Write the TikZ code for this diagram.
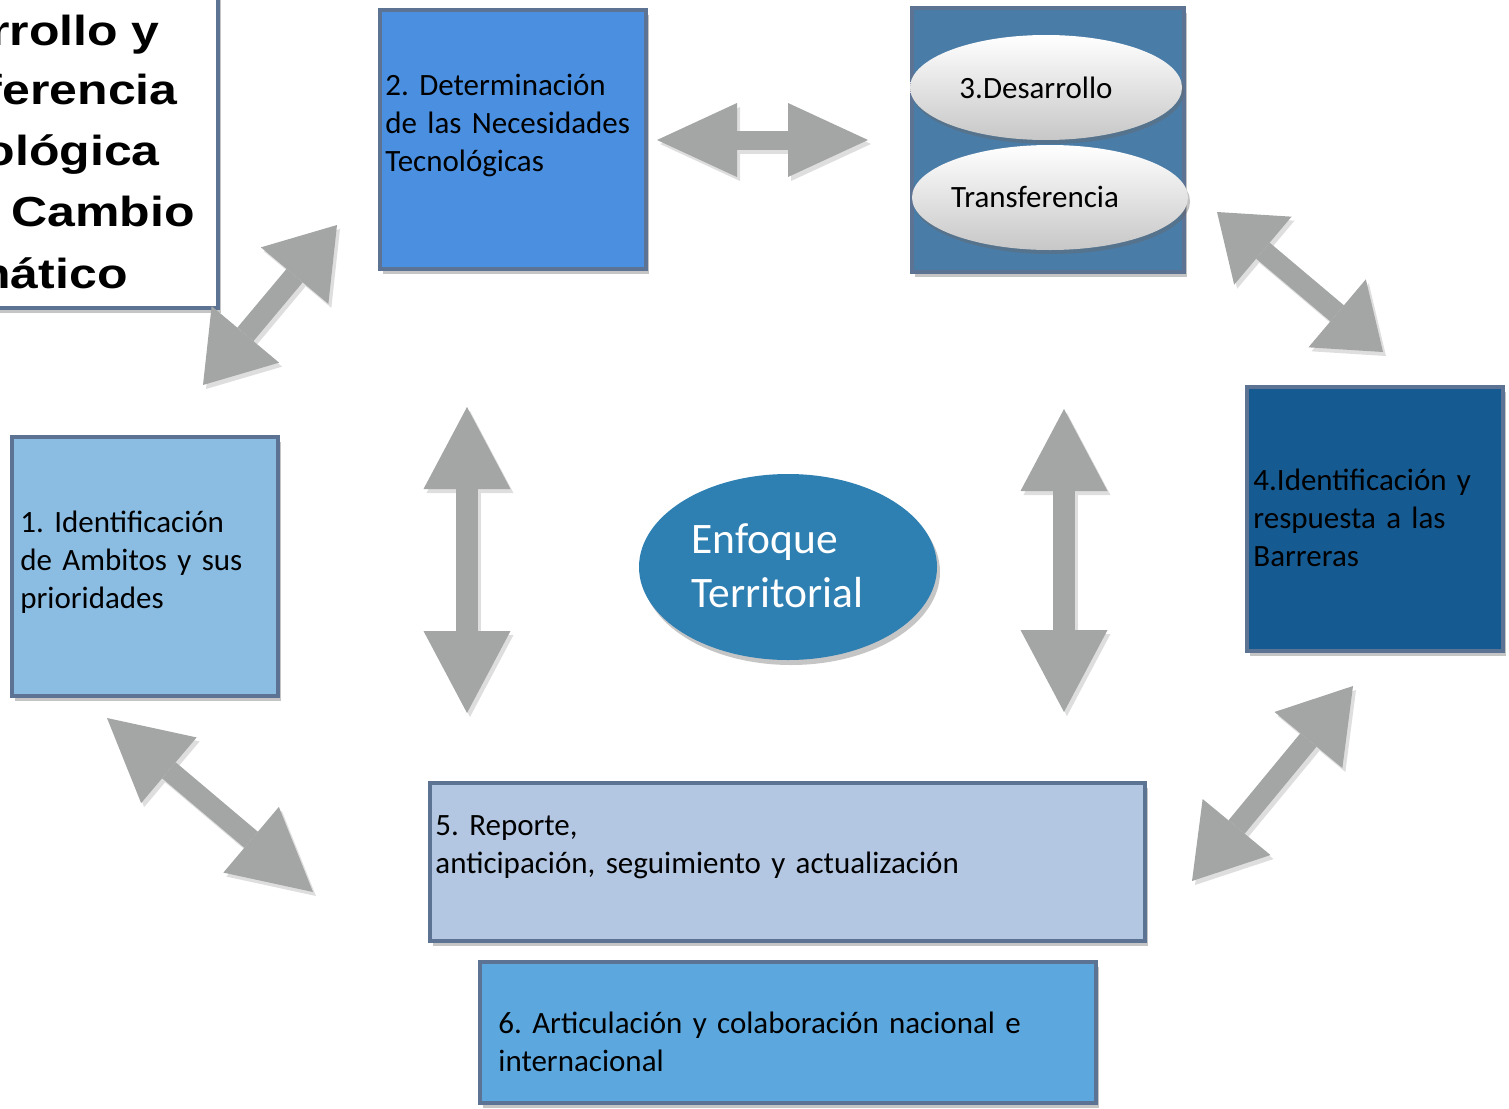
\documentclass[tikz,border=0pt]{standalone}
\usepackage{fontspec}
\setmainfont{Carlito}
\newfontfamily\titlefont{Liberation Sans}
\usetikzlibrary{arrows.meta,shapes.geometric,shadows}
\definecolor{bordc}{HTML}{5D7393}
\definecolor{arrowgray}{HTML}{A3A6A5}
\definecolor{shadowgray}{HTML}{DEDEDE}
\definecolor{cone}{HTML}{8BBDE3}
\definecolor{ctwo}{HTML}{4A8FE0}
\definecolor{cthree}{HTML}{4A7CA8}
\definecolor{cfour}{HTML}{165A92}
\definecolor{cfive}{HTML}{B3C7E2}
\definecolor{csix}{HTML}{5CA8DE}
\definecolor{cenf}{HTML}{2E7FB2}
\frenchspacing
\begin{document}
\begin{tikzpicture}[x=0.5pt,y=-0.5pt,
  box/.style={rectangle, draw=bordc, line width=2pt, inner sep=0pt,
    drop shadow={shadow xshift=1.5pt, shadow yshift=-2.5pt, fill=black!45, opacity=0.5}},
  boxtxt/.style={anchor=base west, inner sep=0pt, text width=300pt, align=left,
    font=\frenchspacing\fontsize{15.5pt}{19pt}\selectfont},
  elltxt/.style={anchor=base, inner sep=0pt, font=\fontsize{15.5pt}{19pt}\selectfont},
  titletxt/.style={anchor=base east, inner sep=0pt, font=\titlefont\bfseries\fontsize{21pt}{25pt}\selectfont},
  barrow/.style n args={3}{line width=#3,
    {Triangle[length=#1,width=#2,line width=0pt]}-{Triangle[length=#1,width=#2,line width=0pt]}},
  ashadow/.style={draw=shadowgray, transform canvas={shift={(3,4)}}},
  amain/.style={draw=arrowgray}
]
\useasboundingbox (0,0) rectangle (1509,1108);

% ---- title box (partly off the page, as in the reference)
\begin{scope}
\clip (0,0) rectangle (1509,1108);
\node[box, fill=white, minimum width=119pt, minimum height=164pt] (title) at (99,144) {};
\node[titletxt] (tl1) at (160,46) {\scalebox{1.19}[1]{rrollo y}};
\node[titletxt] (tl2) at (178,104) {\scalebox{1.19}[1]{ferencia}};
\node[titletxt] (tl3) at (160,165) {\scalebox{1.19}[1]{ológica}};
\node[titletxt] (tl4) at (195,226) {\scalebox{1.19}[1]{Cambio}};
\node[titletxt] (tl5) at (128,288) {\scalebox{1.19}[1]{nático}};
\end{scope}

% ---- arrow end points
\coordinate (aL) at (657,140);  \coordinate (aR) at (868,140);
\coordinate (bT) at (467,407);  \coordinate (bB) at (467,713);
\coordinate (cT) at (1064,409); \coordinate (cB) at (1064,712);
\coordinate (dA) at (203,385);  \coordinate (dB) at (337,225);
\coordinate (eA) at (1217,212); \coordinate (eB) at (1383,352);
\coordinate (fA) at (107,718);  \coordinate (fB) at (313,892);
\coordinate (gA) at (1353,686); \coordinate (gB) at (1192,881);

% ---- arrow shadows
\draw[barrow={40pt}{37pt}{9.5pt}, ashadow] (aL) -- (aR);
\draw[barrow={41pt}{43.5pt}{11pt}, ashadow] (bT) -- (bB);
\draw[barrow={41pt}{43.5pt}{11pt}, ashadow] (cT) -- (cB);
\draw[barrow={33pt}{44pt}{10.5pt}, ashadow] (dA) -- (dB);
\draw[barrow={30pt}{44.5pt}{10.5pt}, ashadow] (eA) -- (eB);
\draw[barrow={40.5pt}{43pt}{10.5pt}, ashadow] (fA) -- (fB);
\draw[barrow={35pt}{44pt}{10.5pt}, ashadow] (gA) -- (gB);
% ---- arrows
\draw[barrow={40pt}{37pt}{9.5pt}, amain] (aL) -- (aR);
\draw[barrow={41pt}{43.5pt}{11pt}, amain] (bT) -- (bB);
\draw[barrow={41pt}{43.5pt}{11pt}, amain] (cT) -- (cB);
\draw[barrow={33pt}{44pt}{10.5pt}, amain] (dA) -- (dB);
\draw[barrow={30pt}{44.5pt}{10.5pt}, amain] (eA) -- (eB);
\draw[barrow={40.5pt}{43pt}{10.5pt}, amain] (fA) -- (fB);
\draw[barrow={35pt}{44pt}{10.5pt}, amain] (gA) -- (gB);

% ---- boxes
\node[box, fill=cone, minimum width=133pt, minimum height=129.5pt] (b1) at (145,566.5) {};
\node[box, fill=ctwo, minimum width=133pt, minimum height=129.5pt] (b2) at (513,139.5) {};
\node[box, fill=cthree, minimum width=136pt, minimum height=132pt] (b3) at (1048,140) {};
\node[box, fill=cfour, minimum width=128pt, minimum height=132pt] (b4) at (1375,519) {};
\node[box, fill=cfive, minimum width=357.5pt, minimum height=79pt] (b5) at (787.5,862) {};
\node[box, fill=csix, minimum width=308pt, minimum height=70.5pt] (b6) at (788,1032.5) {};

% ---- ellipses in box 3
\node[ellipse, inner sep=0pt, minimum width=136pt, minimum height=52.5pt,
  top color=white, bottom color=black!22,
  drop shadow={shadow xshift=1pt, shadow yshift=-2pt, fill=black!60, opacity=0.4}] (e1) at (1046,87.5) {};
\node[ellipse, inner sep=0pt, minimum width=138pt, minimum height=52.5pt,
  top color=white, bottom color=black!22,
  drop shadow={shadow xshift=1pt, shadow yshift=-2pt, fill=black!60, opacity=0.4}] (e2) at (1050,197.5) {};
\node[elltxt] (e1t) at (1036,98) {3.Desarrollo};
\node[elltxt] (e2t) at (1035,207) {Transferencia};

% ---- central ellipse
\node[ellipse, inner sep=0pt, fill=cenf, minimum width=149pt, minimum height=93pt,
  drop shadow={shadow xshift=1.5pt, shadow yshift=-2.5pt, fill=black!45, opacity=0.5}] (ef) at (788,567) {};
\node[anchor=base west, inner sep=0pt, text width=120pt, align=left, text=white,
  font=\fontsize{21.75pt}{27pt}\selectfont] (eft) at (691,553) {Enfoque\\Territorial};

% ---- box texts
\node[boxtxt] (t1) at (20,532) {1. Identificación\\de Ambitos y sus\\prioridades};
\node[boxtxt] (t2) at (385,95) {2. Determinación\\de las Necesidades\\Tecnológicas};
\node[boxtxt] (t4) at (1253,490) {4.Identificación y\\respuesta a las\\Barreras};
\node[boxtxt] (t5) at (435,835) {5. Reporte,\\anticipación, seguimiento y actualización};
\node[boxtxt] (t6) at (498,1033) {6. Articulación y colaboración nacional e\\internacional};
\end{tikzpicture}
\end{document}
